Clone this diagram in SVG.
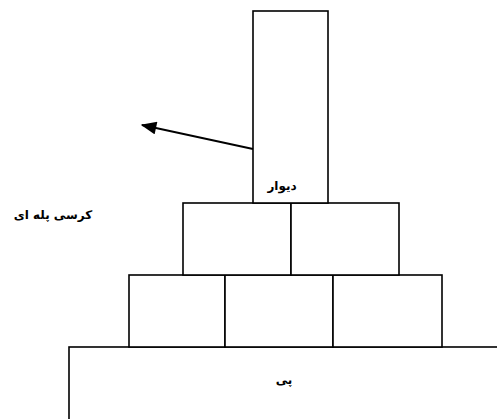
<svg xmlns="http://www.w3.org/2000/svg" width="497" height="419" viewBox="0 0 497 419">
<style>
.b{fill:#fff;stroke:#000;stroke-width:1.6}
.t{font-family:"DejaVu Sans",sans-serif;font-size:12px;font-weight:bold;fill:#000;text-anchor:middle}
.c{stroke:#000;stroke-width:1.8;fill:none}
</style>
<defs>
<marker id="ah2" viewBox="0 0 12 10" markerWidth="17" markerHeight="13" refX="11" refY="5" orient="auto" markerUnits="userSpaceOnUse">
<path d="M0,0 L12,5 L0,10 Z" fill="#000"/>
</marker>
</defs>
<g id="base"><rect class="b" x="69" y="347" width="440" height="80"/><text class="t" x="284" y="384" direction="rtl">پی</text></g>
<g id="tier3">
<rect class="b" x="129" y="275" width="96" height="72"/>
<rect class="b" x="225" y="275" width="108" height="72"/>
<rect class="b" x="333" y="275" width="109" height="72"/>
</g>
<g id="tier2">
<rect class="b" x="183" y="203" width="108" height="72"/>
<rect class="b" x="291" y="203" width="108" height="72"/>
</g>
<g id="wall"><rect class="b" x="253" y="11" width="75" height="192"/><text class="t" x="282" y="190" direction="rtl">دیوار</text></g>
<g id="label"><text class="t" x="53" y="219" direction="rtl">کرسی پله ای</text></g>
<g id="connectors"><line class="c" x1="253" y1="149" x2="142" y2="125" marker-end="url(#ah2)"/></g>
</svg>
